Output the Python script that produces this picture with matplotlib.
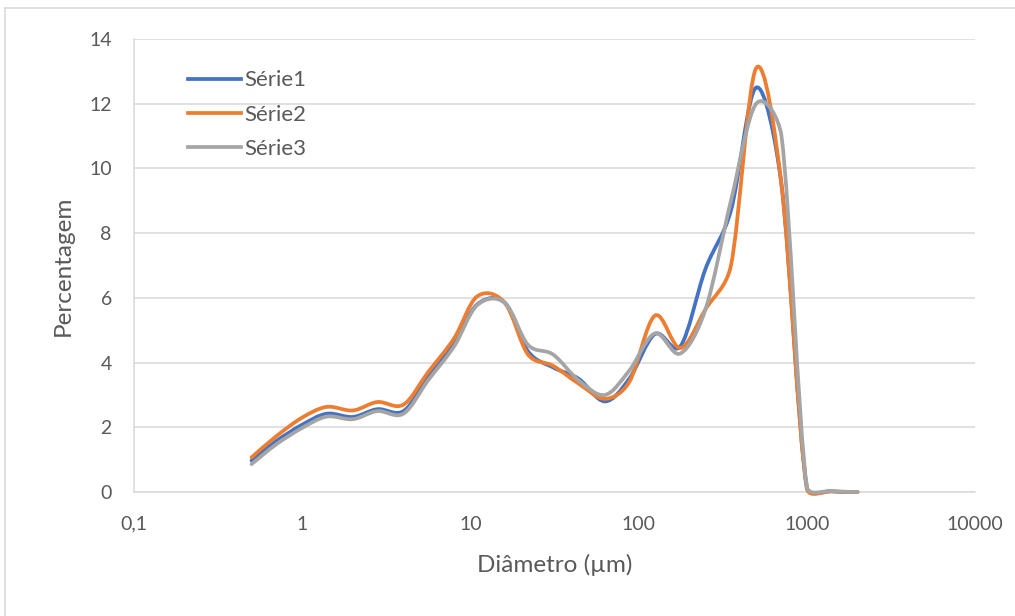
import numpy as np
import matplotlib
matplotlib.use("Agg")
import matplotlib.pyplot as plt
from matplotlib.path import Path
from matplotlib.patches import PathPatch, Rectangle
from matplotlib.lines import Line2D

plt.rcParams['font.family'] = ['Lato', 'DejaVu Sans']

# diameter classes (um) and percentages per series
diametro = [0.5, 0.7, 1.0, 1.4, 2.0, 2.8, 4.0, 5.6, 8.0, 11, 16, 22,
            31, 44, 63, 88, 125, 177, 250, 354, 500, 707, 1000, 1414, 2000]
serie1 = [0.97, 1.57, 2.08, 2.42, 2.32, 2.56, 2.50, 3.55, 4.60, 5.80, 5.85, 4.35,
          3.85, 3.50, 2.80, 3.50, 4.88, 4.50, 6.90, 8.70, 12.5, 9.5, 0.15, 0.02, 0.0]
serie2 = [1.07, 1.72, 2.30, 2.63, 2.52, 2.78, 2.70, 3.70, 4.75, 6.05, 5.85, 4.25,
          3.90, 3.35, 2.88, 3.40, 5.45, 4.45, 5.65, 7.00, 13.1, 9.5, 0.12, 0.02, 0.0]
serie3 = [0.86, 1.47, 1.98, 2.33, 2.25, 2.50, 2.42, 3.45, 4.50, 5.78, 5.85, 4.55,
          4.25, 3.45, 3.00, 3.75, 4.90, 4.28, 5.65, 9.00, 12.0, 11.0, 0.18, 0.03, 0.0]

nomes = ['Série1', 'Série2', 'Série3']
cores = ['#4472C4', '#ED7D31', '#A5A5A5']
xticks = [0.1, 1, 10, 100, 1000, 10000]
xticklabels = ['0,1', '1', '10', '100', '1000', '10000']

# rough screen scale (px per decade, px per unit) used to shape the curve
SX, SY = 168.2, 32.4


def smooth_path(x, y, cap=0.45):
    # smoothed line: cubic bezier (tension 1/6) in log-x space, with the
    # control arms limited to a fraction of the neighbouring segment
    p = np.column_stack([np.log10(x) * SX, np.asarray(y, float) * SY])
    n = len(p)

    def arm(j, k, seg):
        d = (p[k] - p[j]) / 6.0
        L = np.hypot(*d)
        m = cap * np.hypot(*seg)
        return d * (m / L) if L > m and L > 0 else d

    verts = [p[0]]
    codes = [Path.MOVETO]
    for i in range(n - 1):
        seg = p[i + 1] - p[i]
        c1 = p[i] + arm(max(i - 1, 0), i + 1, seg)
        c2 = p[i + 1] - arm(i, min(i + 2, n - 1), seg)
        verts += [c1, c2, p[i + 1]]
        codes += [Path.CURVE4] * 3
    verts = np.array(verts)
    verts[:, 0] = 10 ** (verts[:, 0] / SX)
    verts[:, 1] = verts[:, 1] / SY
    return Path(verts, codes)


fig = plt.figure(figsize=(10.15, 6.16), dpi=100)
ax = fig.add_axes([0.132, 0.2013, 0.8286, 0.7354])

for serie, cor in zip([serie1, serie2, serie3], cores):
    ax.add_patch(PathPatch(smooth_path(diametro, serie), facecolor='none',
                           edgecolor=cor, lw=2.7, capstyle='round',
                           zorder=3, clip_on=False))

ax.set_xscale('log')
ax.set_xlim(0.1, 10000)
ax.set_ylim(0, 14)
ax.set_xticks(xticks)
ax.set_xticklabels(xticklabels)
ax.xaxis.set_minor_locator(matplotlib.ticker.NullLocator())
ax.set_yticks(range(0, 15, 2))
ax.tick_params(length=0, labelsize=14, labelcolor='#595959')
ax.tick_params(axis='x', pad=17)
ax.tick_params(axis='y', pad=16)
ax.grid(axis='y', color='#D9D9D9', lw=1.1)
ax.set_axisbelow(True)
for s in ['top', 'right']:
    ax.spines[s].set_visible(False)
for s in ['left', 'bottom']:
    ax.spines[s].set_color('#D9D9D9')
    ax.spines[s].set_linewidth(1.1)

ax.set_xlabel('Diâmetro (µm)', fontsize=17.5, color='#595959', labelpad=15)
ax.set_ylabel('Percentagem', fontsize=17.5, color='#595959', labelpad=11)

handles = [Line2D([], [], color=c, lw=2.7) for c in cores]
ax.legend(handles, nomes, loc='upper left', bbox_to_anchor=(0.04, 0.975),
          frameon=False, fontsize=16, labelcolor='#595959', handlelength=2.4,
          handletextpad=0.15, labelspacing=0.65)

fig.patches.append(Rectangle((0.005, -0.02), 1.1, 1.007, transform=fig.transFigure,
                             fill=False, edgecolor='#D9D9D9', lw=1.2))

fig.savefig('out.png', dpi=100)
